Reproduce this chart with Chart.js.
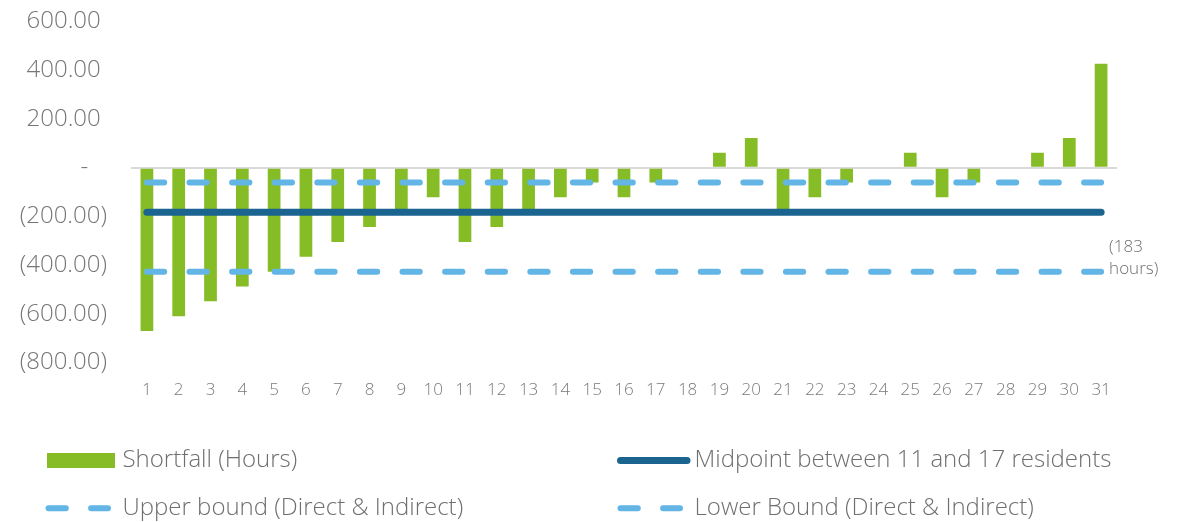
<!DOCTYPE html>
<html>
<head>
<meta charset="utf-8">
<script src="https://cdn.jsdelivr.net/npm/chart.js@4/dist/chart.umd.min.js"></script>
<style>
  html, body { margin: 0; padding: 0; background: #ffffff; }
  #wrap { position: relative; width: 1188px; height: 522px; }
</style>
</head>
<body>
<div id="wrap"><canvas id="chart" width="1188" height="522"></canvas></div>
<script>
// Days of the month
const categories = ['1','2','3','4','5','6','7','8','9','10','11','12','13','14','15','16',
  '17','18','19','20','21','22','23','24','25','26','27','28','29','30','31'];

// Staffing shortfall per day, in hours
const shortfallHours = [-671, -610, -549, -488, -427, -366, -305, -244, -183, -122,
  -305, -244, -183, -122, -61, -122, -61, 0, 61, 122,
  -183, -122, -61, 0, 61, -122, -61, 0, 61, 122, 427];

// Reference levels (hours)
const midpointHours = -183;
const upperBoundHours = -61;
const lowerBoundHours = -427;

// Value axis ticks
const yTicks = [600, 400, 200, 0, -200, -400, -600, -800];

const seriesNames = [
  'Shortfall (Hours)',
  'Midpoint between 11 and 17 residents',
  'Upper bound (Direct & Indirect)',
  'Lower Bound (Direct & Indirect)'
];

const GREEN = '#86BC25';
const DARK_BLUE = '#1B6490';
const LIGHT_BLUE = '#62B5E5';
const FONT = "'Open Sans', 'Noto Sans', sans-serif";
const DASH = [17.3, 25.3];

function span(v) {
  return [
    { x: categories[0], y: v },
    { x: categories[categories.length - 1], y: v }
  ];
}

function formatTick(v) {
  if (v > 0) return v.toFixed(2) + ' ';
  if (v < 0) return '(' + (-v).toFixed(2) + ')';
  return '-   ';
}

// Two-column legend drawn under the plot
const legendPlugin = {
  id: 'gridLegend',
  afterDraw(chart) {
    const ctx = chart.ctx;
    const cols = [45, 617];
    const rows = [460.5, 508.3];
    ctx.save();
    chart.data.datasets.forEach((ds, i) => {
      const x0 = cols[i % 2];
      const y = rows[Math.floor(i / 2)];
      if (ds.type === 'line') {
        ctx.beginPath();
        ctx.strokeStyle = ds.borderColor;
        ctx.lineWidth = ds.borderWidth;
        ctx.lineCap = 'round';
        ctx.setLineDash(ds.borderDash || []);
        const x1 = ds.borderDash ? x0 + 63 : x0 + 70;
        ctx.moveTo(x0 + 3.5, y);
        ctx.lineTo(x1, y);
        ctx.stroke();
        ctx.setLineDash([]);
      } else {
        ctx.fillStyle = ds.backgroundColor;
        ctx.fillRect(x0 + 2, y - 7.5, 68, 15);
      }
      ctx.fillStyle = '#6f6f6f';
      ctx.font = '300 24px ' + FONT;
      ctx.textAlign = 'left';
      ctx.textBaseline = 'middle';
      ctx.fillText(ds.label, x0 + 77.5, y);
    });
    ctx.restore();
  }
};

// Note beside the end of the lower reference line
const notePlugin = {
  id: 'midpointNote',
  afterDatasetsDraw(chart) {
    const ctx = chart.ctx;
    const xs = chart.scales.x, ys = chart.scales.y;
    const x = xs.getPixelForValue(categories.length - 1) + 8;
    const yBase = ys.getPixelForValue(lowerBoundHours);
    ctx.save();
    ctx.fillStyle = '#6f6f6f';
    ctx.font = '300 17px ' + FONT;
    ctx.textAlign = 'left';
    ctx.textBaseline = 'middle';
    ctx.fillText('(' + Math.abs(midpointHours), x, yBase - 24);
    ctx.fillText('hours)', x, yBase - 2);
    ctx.restore();
  }
};

new Chart(document.getElementById('chart'), {
  type: 'bar',
  data: {
    labels: categories,
    datasets: [
      {
        type: 'bar',
        label: seriesNames[0],
        data: shortfallHours,
        backgroundColor: GREEN,
        borderWidth: 0,
        categoryPercentage: 1.0,
        barPercentage: 0.4,
        order: 2
      },
      {
        type: 'line',
        label: seriesNames[1],
        data: span(midpointHours),
        borderColor: DARK_BLUE,
        borderWidth: 7,
        borderCapStyle: 'round',
        pointRadius: 0,
        fill: false,
        order: 1
      },
      {
        type: 'line',
        label: seriesNames[2],
        data: span(upperBoundHours),
        borderColor: LIGHT_BLUE,
        borderWidth: 6,
        borderDash: DASH,
        borderCapStyle: 'round',
        pointRadius: 0,
        fill: false,
        order: 0
      },
      {
        type: 'line',
        label: seriesNames[3],
        data: span(lowerBoundHours),
        borderColor: LIGHT_BLUE,
        borderWidth: 6,
        borderDash: DASH,
        borderCapStyle: 'round',
        pointRadius: 0,
        fill: false,
        order: 0
      }
    ]
  },
  options: {
    responsive: false,
    animation: false,
    layout: { padding: { top: 21.5, right: 71, bottom: 0, left: 0 } },
    plugins: {
      legend: { display: false },
      tooltip: { enabled: false }
    },
    scales: {
      x: {
        grid: { display: false, drawTicks: false },
        border: { display: false },
        ticks: {
          color: '#7a7a7a',
          font: { family: FONT, size: 17, weight: '300' },
          padding: 17,
          maxRotation: 0,
          autoSkip: false
        },
        afterFit(scale) { scale.height = 159.5; }
      },
      y: {
        min: -800,
        max: 600,
        grid: {
          drawTicks: false,
          lineWidth: 2,
          color: (c) => (c.tick && c.tick.value === 0 ? '#d9d9d9' : 'rgba(0,0,0,0)')
        },
        border: { display: false },
        afterBuildTicks(scale) { scale.ticks = yTicks.map(v => ({ value: v })); },
        ticks: {
          color: '#767676',
          font: { family: FONT, size: 24, weight: '300' },
          padding: 24,
          callback: (v) => formatTick(v)
        },
        afterFit(scale) {
          scale.width = 131;
          scale.paddingTop = 0;
          scale.paddingBottom = 0;
        }
      }
    }
  },
  plugins: [legendPlugin, notePlugin]
});
</script>
</body>
</html>
